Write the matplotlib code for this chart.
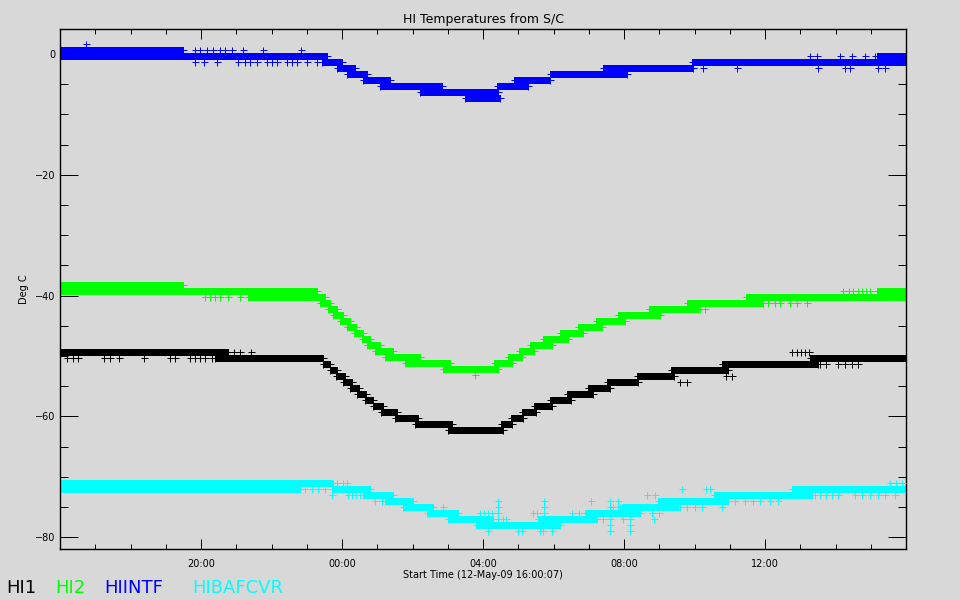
import matplotlib
matplotlib.use("Agg")
import matplotlib.pyplot as plt
import numpy as np
from matplotlib.ticker import FixedLocator, MultipleLocator

# ---------------- data (hours since 12-May-09 16:00:07, deg C) ----------------
# HI1 (black): step segments  start, end, level
hi1_start = [0.00, 4.40, 7.46, 7.66, 7.83, 8.03, 8.23, 8.43, 8.65, 8.88, 9.11, 9.50, 10.07, 11.01,
             12.51, 12.79, 13.11, 13.45, 13.90, 14.38, 14.98, 15.52, 16.37, 17.33, 18.78, 21.28]
hi1_end = [4.77, 7.46, 7.66, 7.86, 8.09, 8.28, 8.48, 8.68, 8.88, 9.16, 9.56, 10.16, 11.12, 12.57,
           12.82, 13.13, 13.50, 13.96, 14.50, 15.12, 15.60, 16.40, 17.42, 18.95, 21.50, 24.00]
hi1_level = [-49.25, -50.25, -51.25, -52.25, -53.25, -54.25, -55.25, -56.25, -57.25, -58.25, -59.25,
             -60.25, -61.25, -62.25, -61.25, -60.25, -59.25, -58.25, -57.25, -56.25, -55.25, -54.25,
             -53.25, -52.25, -51.25, -50.25]
hi1_out_t = [0.20, 0.37, 0.51, 1.25, 1.42, 1.67, 2.38, 3.12, 3.26, 3.69, 3.83, 3.97, 4.11, 4.31,
             4.77, 4.94, 5.11, 5.42, 17.60, 17.80, 18.90, 19.05,
             20.77, 20.91, 21.02, 21.13, 21.25, 21.56, 21.73, 22.07, 22.27, 22.47, 22.64]
hi1_out_v = [-50.25] * 14 + [-49.25] * 4 + [-54.25, -54.25, -53.25, -53.25] + [-49.25] * 5 + [-51.25] * 6

# HI2 (green)
hi2_start = [0.00, 0.00, 5.33, 7.38, 7.60, 7.74, 7.94, 8.14, 8.34, 8.57, 8.71, 8.94, 9.22, 9.79, 10.87,
             12.31, 12.71, 13.02, 13.33, 13.70, 14.18, 14.70, 15.21, 15.83, 16.71, 17.79, 19.46, 23.18]
hi2_end = [3.49, 7.29, 7.52, 7.66, 7.86, 8.03, 8.23, 8.40, 8.60, 8.79, 9.08, 9.45, 10.21, 11.06, 12.43,
           12.82, 13.11, 13.45, 13.96, 14.41, 14.84, 15.38, 16.03, 17.02, 18.10, 19.94, 24.00, 24.00]
hi2_level = [-38.2, -39.2, -40.2, -41.2, -42.2, -43.2, -44.2, -45.2, -46.2, -47.2, -48.2, -49.2, -50.2,
             -51.2, -52.2, -51.2, -50.2, -49.2, -48.2, -47.2, -46.2, -45.2, -44.2, -43.2, -42.2, -41.2,
             -40.2, -39.2]
hi2_out_t = [4.11, 4.26, 4.40, 4.54, 4.77, 5.11, 11.77, 18.16, 18.30,
             19.94, 20.09, 20.28, 20.43, 20.71, 20.91, 21.19,
             22.21, 22.38, 22.50, 22.64, 22.75, 22.87, 22.98]
hi2_out_v = [-40.2] * 6 + [-53.2, -42.2, -42.2] + [-41.2] * 7 + [-39.2] * 7

# HIINTF (blue)
hiintf_start = [0.00, 0.00, 7.43, 7.86, 8.14, 8.60, 9.08, 10.21, 11.49, 12.40, 12.88, 13.90, 15.40,
                17.93, 23.18]
hiintf_end = [3.49, 7.57, 8.00, 8.37, 8.71, 9.36, 10.84, 12.43, 12.48, 13.28, 13.90, 16.09, 17.96,
              24.00, 24.00]
hiintf_level = [0.67, -0.33, -1.33, -2.33, -3.33, -4.33, -5.33, -6.33, -7.33, -5.33, -4.33, -3.33,
                -2.33, -1.33, -0.33]
hiintf_out_t = [0.74, 3.83, 3.97, 4.17, 4.34, 4.54, 4.68, 4.88, 5.19, 5.76, 6.84,
                3.83, 4.09, 4.45, 5.05, 5.25, 5.39, 5.59, 5.87, 6.01, 6.16, 6.44, 6.58, 6.72, 7.01, 7.29,
                18.24, 19.21, 21.50, 22.27, 22.41, 23.21, 23.40,
                21.28, 21.48, 22.13, 22.47, 22.84, 23.12, 23.26]
hiintf_out_v = [1.67] + [0.67] * 10 + [-1.33] * 15 + [-2.33] * 7 + [-0.33] * 7

# HIBAFCVR (cyan)
hibaf_start = [0.00, 0.00, 7.72, 8.60, 9.22, 9.73, 10.41, 11.01, 11.80, 13.56, 14.89, 15.94, 16.96,
               18.55, 20.77]
hibaf_end = [7.72, 6.81, 8.79, 9.45, 10.01, 10.58, 11.29, 12.28, 14.18, 15.23, 16.45, 17.53, 18.95,
             21.33, 24.00]
hibaf_level = [-71.0, -72.0, -72.0, -73.0, -74.0, -75.0, -76.0, -77.0, -78.0, -77.0, -76.0, -75.0,
               -74.0, -73.0, -72.0]
hibaf_out_t = [6.95, 7.15, 7.32, 7.52, 7.74, 7.86, 8.03, 8.14, 7.72, 8.17, 8.28, 8.40, 8.51,
               8.94, 9.14, 10.07, 10.21, 10.87,
               12.43, 12.43, 12.43, 12.43, 13.73, 13.73, 13.73, 15.06,
               15.60, 15.60, 15.60, 15.60, 15.60, 15.60, 15.83, 15.83,
               16.17, 16.17, 16.17, 16.17, 16.17,
               12.14, 12.99, 13.11, 13.62, 13.70, 13.96,
               11.91, 12.03, 12.14, 12.26, 11.55, 12.57, 12.65, 13.42, 13.53, 14.52, 14.72,
               15.69, 15.89, 16.34, 16.54, 15.40, 15.97, 16.65, 16.88, 16.80, 17.00, 16.85,
               17.65, 18.33, 18.44, 17.60, 17.80, 18.00, 18.20, 18.78,
               19.15, 19.43, 19.66, 19.86, 20.14, 20.37,
               21.42, 21.56, 21.73, 21.90, 22.07, 22.55, 22.75, 22.98, 23.21, 23.40, 23.69,
               23.55, 23.72, 23.89]
hibaf_out_v = [-72.0] * 4 + [-71.0] * 4 + [-73.0] * 5 + [-74.0, -74.0, -75.0, -75.0, -75.0] + \
              [-74.0, -75.0, -76.0, -77.0, -74.0, -75.0, -76.0, -74.0] + \
              [-74.0, -75.0, -76.0, -77.0, -78.0, -79.0, -74.0, -75.0] + \
              [-75.0, -76.0, -77.0, -78.0, -79.0] + [-79.0] * 6 + \
              [-76.0, -76.0, -76.0, -76.0, -77.0, -77.0, -77.0, -76.0, -76.0, -76.0, -76.0] + \
              [-75.0, -75.0, -75.0, -75.0, -77.0, -77.0, -73.0, -73.0, -76.0, -76.0, -77.0] + \
              [-72.0, -72.0, -72.0, -75.0, -75.0, -75.0, -75.0, -75.0] + [-74.0] * 6 + \
              [-73.0] * 11 + [-71.0] * 3

series_names = ["HI1", "HI2", "HIINTF", "HIBAFCVR"]
series_colors = ["#000000", "#00ff00", "#0000ff", "#00ffff"]

x_tick_hours = [4, 8, 12, 16, 20]
x_tick_labels = ["20:00", "00:00", "04:00", "08:00", "12:00"]
y_ticks = [-80, -60, -40, -20, 0]

# ---------------- figure ----------------
BG = "#d8d8d8"
PX = 0.72  # points per pixel at dpi 100
fig = plt.figure(figsize=(9.6, 6.0), dpi=100, facecolor=BG)
ax = fig.add_axes([60 / 960, 51 / 600, 846 / 960, 520 / 600], facecolor=BG)

data = [
    (hi1_start, hi1_end, hi1_level, hi1_out_t, hi1_out_v),
    (hi2_start, hi2_end, hi2_level, hi2_out_t, hi2_out_v),
    (hiintf_start, hiintf_end, hiintf_level, hiintf_out_t, hiintf_out_v),
    (hibaf_start, hibaf_end, hibaf_level, hibaf_out_t, hibaf_out_v),
]

mk = dict(marker="+", linestyle="none", markersize=7 * PX, markeredgewidth=1 * PX, antialiased=False)
for (s, e, lv, ot, ov), col in zip(data, series_colors):
    ax.hlines(lv, s, e, colors=col, linewidth=6.5 * PX, capstyle="butt", antialiased=False, zorder=2)
    ax.plot(s, lv, color=col, zorder=2, **mk)
    ax.plot(e, lv, color=col, zorder=2, **mk)
    ax.plot(ot, ov, color=col, zorder=3, **mk)

ax.set_xlim(0, 24)
ax.set_ylim(-81.94, 4.14)

ax.xaxis.set_major_locator(FixedLocator(x_tick_hours))
ax.set_xticklabels(x_tick_labels)
ax.xaxis.set_minor_locator(MultipleLocator(1))
ax.yaxis.set_major_locator(FixedLocator(y_ticks))
ax.yaxis.set_minor_locator(MultipleLocator(5))

ax.tick_params(axis="x", which="major", direction="in", length=10 * PX, width=PX, top=True,
               labelsize=7, pad=7)
ax.tick_params(axis="x", which="minor", direction="in", length=5 * PX, width=PX, top=True)
ax.tick_params(axis="y", which="major", direction="in", length=18 * PX, width=PX, right=True,
               labelsize=7, pad=3)
ax.tick_params(axis="y", which="minor", direction="in", length=8 * PX, width=PX, right=True)
for sp in ax.spines.values():
    sp.set_linewidth(1.4 * PX)

fig.text(483 / 960, 1 - 19 / 600, "HI Temperatures from S/C", ha="center", va="center", fontsize=9)
fig.text(483 / 960, 1 - 575 / 600, "Start Time (12-May-09 16:00:07)", ha="center", va="center",
         fontsize=7)
fig.text(24 / 960, 1 - 289 / 600, "Deg C", ha="center", va="center", rotation=90, fontsize=7)

legend_x = [6, 55, 104, 192]
for name, col, lx in zip(series_names, series_colors, legend_x):
    fig.text(lx / 960, 1 - 588 / 600, name, color=col, ha="left", va="center", fontsize=13)

fig.savefig("out.png", dpi=100, facecolor=BG)
